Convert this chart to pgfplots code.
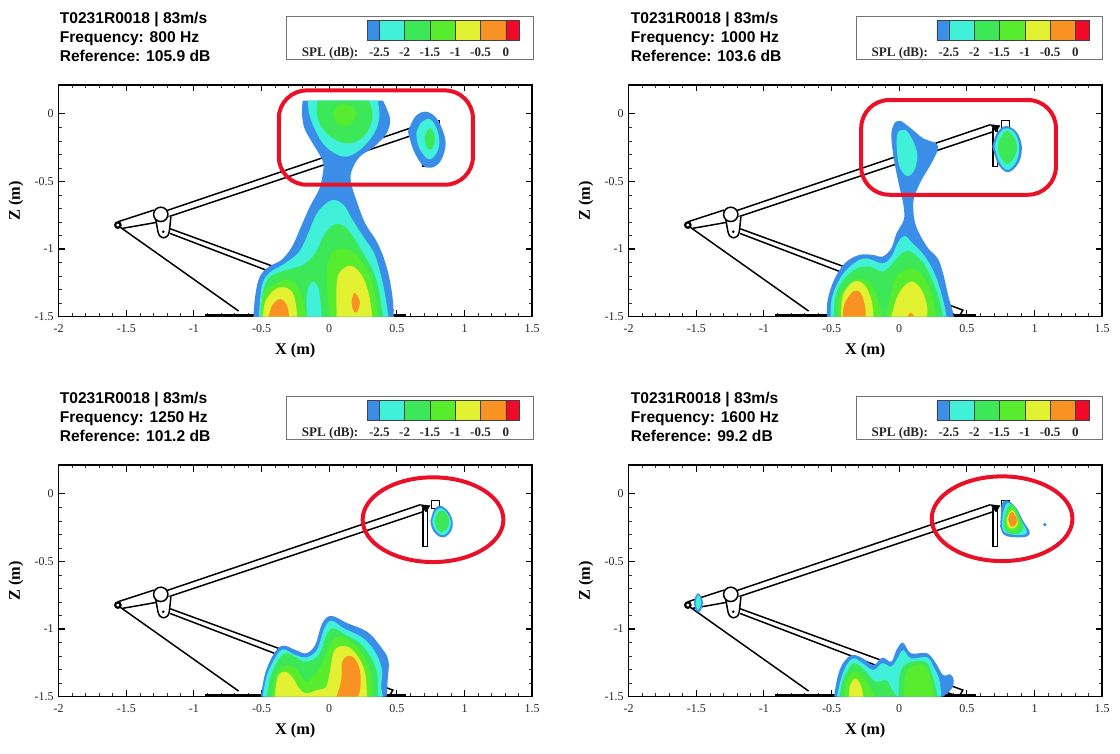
\documentclass[border=0pt]{standalone}
\usepackage{fontspec}
\setmainfont{Liberation Serif}
\newfontfamily\sansb{Liberation Sans}
\usepackage{pgfplots}
\pgfplotsset{compat=1.18}
\definecolor{cBlue}{HTML}{3A8EE8}
\definecolor{cCyan}{HTML}{40F0D8}
\definecolor{cGreen}{HTML}{3CE858}
\definecolor{cLime}{HTML}{58EC2E}
\definecolor{cYellow}{HTML}{E2F232}
\definecolor{cOrange}{HTML}{F89222}
\definecolor{cRed}{HTML}{F00A28}
\definecolor{ringRed}{HTML}{EA1028}
\newcommand\cf[2]{\addplot[fill=#1,draw=none,smooth,tension=0.6] coordinates {#2};}
\newcommand\rl[1]{\addplot[black,line width=1.5pt,no marks] coordinates {#1};}
\newcommand\rig{%
 \addplot[black,line width=2.6pt,no marks] coordinates {(-0.92,-1.488)(0.57,-1.488)};
 \rl{(-1.55,-0.835)(-0.67,-1.458)}
 \rl{(-1.56,-0.798)(-1.295,-0.712)}
 \addplot[black,line width=1.5pt,no marks,smooth] coordinates {(-1.527,-0.847)(-1.40,-0.825)(-1.277,-0.803)};
 \rl{(-1.198,-0.715)(0.675,-0.081)}
 \rl{(-1.198,-0.765)(0.701,-0.131)}
 \rl{(-1.176,-0.850)(0.470,-1.451)(0.449,-1.488)}
 \rl{(-1.176,-0.885)(0.404,-1.488)}
 \addplot[black,fill=white,line width=1.5pt,no marks] coordinates {(0.694,-0.106)(0.728,-0.106)(0.728,-0.389)(0.694,-0.389)(0.694,-0.106)};
 \addplot[black,fill=white,line width=1.5pt,no marks] coordinates {(0.755,-0.05)(0.815,-0.05)(0.815,-0.11)(0.755,-0.11)(0.755,-0.05)};
 \addplot[black,fill=black,no marks] coordinates {(0.675,-0.081)(0.745,-0.088)(0.715,-0.135)(0.675,-0.081)};
 \addplot[black,fill=white,line width=1.5pt,no marks,smooth,tension=0.5] coordinates {(-1.285,-0.76)(-1.265,-0.875)(-1.25,-0.905)(-1.225,-0.917)(-1.197,-0.905)(-1.183,-0.875)(-1.17,-0.76)};
 \addplot[only marks,mark=*,mark size=1.1pt,black] coordinates {(-1.227,-0.872)};
 \draw[black,fill=white,line width=1.5pt] (axis cs:-1.245,-0.744) ellipse [x radius=0.053,y radius=0.053];
 \draw[black,fill=white,line width=2.2pt] (axis cs:-1.562,-0.823) ellipse [x radius=0.02,y radius=0.02];
}
\pgfplotsset{panel/.style={
 anchor=south west,scale only axis,width=473.6pt,height=231.7pt,
 xmin=-2,xmax=1.5,ymin=-1.5,ymax=0.212,
 xtick={-2,-1.5,-1,-0.5,0,0.5,1,1.5},
 xticklabels={-2,-1.5,-1,-0.5,0,0.5,1,1.5},
 ytick={-1.5,-1,-0.5,0},
 yticklabels={-1.5,-1,-0.5,0},
 minor x tick num=4,minor y tick num=4,
 tick align=inside,
 major tick length=6.5pt,minor tick length=3.2pt,
 major tick style={black,line width=1.1pt},
 minor tick style={black!80,line width=0.5pt},
 axis line style={black,line width=1.5pt},
 tick label style={font=\fontsize{12}{14}\selectfont,text=black!85},
 xticklabel style={yshift=-4.5pt},
 yticklabel style={xshift=-1.5pt},
 xlabel={\bfseries X (m)},ylabel={\bfseries Z (m)},
 xlabel style={at={(axis description cs:0.4996,-0.145)},anchor=center,font=\fontsize{16.3}{18}\selectfont},
 ylabel style={at={(axis description cs:-0.09,0.5)},anchor=center,font=\fontsize{16.3}{18}\selectfont},
 clip=true,axis on top=false
}}
\newcommand\cell[3]{\addplot[fill=#1,draw=black!75,line width=0.35pt] coordinates {(#2,0)(#3,0)(#3,1)(#2,1)(#2,0)};}
% #1 box left px  #2 box top px  #3 box right px
\newcommand\legendbar[3]{%
 \draw[black!55,line width=0.7pt] ({#1pt},{753pt-#2pt}) rectangle ({#3pt},{753pt-#2pt-43pt});
 \begin{axis}[anchor=south west,at={({#1pt+80.6pt},{753pt-#2pt-23.5pt})},scale only axis,width=152pt,height=20pt,
  xmin=-2.737,xmax=0.267,ymin=0,ymax=1,
  xtick={-2.5,-2,-1.5,-1,-0.5,0},xticklabels={-2.5,-2,-1.5,-1,-0.5,0},ytick=\empty,
  major tick length=0pt,axis line style={draw=none},
  xticklabel style={font=\bfseries\fontsize{13}{15}\selectfont,text=black!85,yshift=-3.8pt},
  clip=false]
 \cell{cBlue}{-2.737}{-2.5}\cell{cCyan}{-2.5}{-2}\cell{cGreen}{-2}{-1.5}\cell{cLime}{-1.5}{-1}\cell{cYellow}{-1}{-0.5}\cell{cOrange}{-0.5}{0}\cell{cRed}{0}{0.267}
 \end{axis}
 \node[anchor=base west,font=\bfseries\fontsize{13.1}{15}\selectfont,text=black!85,inner sep=0pt] at ({#1pt+15pt},{753pt-#2pt-40pt}) {SPL (dB):};
}
\newcommand\heading[4]{%
 \node[anchor=base west,inner sep=0pt,font=\sansb\bfseries\fontsize{15.6}{17}\selectfont] at ({#1pt},{753pt-#2pt-23.3pt}) {T0231R0018 | 83m/s};
 \node[anchor=base west,inner sep=0pt,font=\sansb\bfseries\fontsize{15.6}{17}\selectfont] at ({#1pt},{753pt-#2pt-42.3pt}) {Frequency: #3 Hz};
 \node[anchor=base west,inner sep=0pt,font=\sansb\bfseries\fontsize{15.6}{17}\selectfont] at ({#1pt},{753pt-#2pt-61.6pt}) {Reference: #4 dB};
}
\begin{document}
\begin{tikzpicture}
\path[use as bounding box] (0pt,0pt) rectangle (1120pt,753pt);
\heading{59.6}{0}{800}{105.9}
\heading{630.7}{0}{1000}{103.6}
\heading{59.6}{380}{1250}{101.2}
\heading{630.7}{380}{1600}{99.2}
\legendbar{286.7}{16.7}{533}
\legendbar{856.3}{16.7}{1102.6}
\legendbar{286.7}{396.7}{533}
\legendbar{856.3}{396.7}{1102.6}

% ---------------- 800 Hz
\begin{axis}[panel,at={(58.6pt,436.3pt)}]
\rig
\cf{cBlue}{(-0.196,0.096)(-0.202,0.002)(-0.183,-0.108)(-0.130,-0.207)(-0.077,-0.293)(-0.043,-0.367)(-0.051,-0.466)(-0.077,-0.564)(-0.143,-0.687)(-0.209,-0.835)(-0.275,-0.983)(-0.354,-1.081)(-0.447,-1.131)(-0.513,-1.204)(-0.544,-1.328)(-0.560,-1.5)(-0.562,-1.68)(0.479,-1.68)(0.477,-1.5)(0.464,-1.328)(0.424,-1.131)(0.358,-0.958)(0.266,-0.810)(0.200,-0.638)(0.160,-0.502)(0.168,-0.416)(0.226,-0.318)(0.332,-0.244)(0.424,-0.145)(0.450,-0.047)(0.424,0.039)(0.398,0.096)}
\cf{cCyan}{(-0.157,0.096)(-0.149,0.002)(-0.104,-0.121)(-0.025,-0.244)(0.107,-0.318)(0.226,-0.268)(0.332,-0.145)(0.371,-0.022)(0.358,0.096)}
\cf{cGreen}{(-0.085,0.096)(-0.090,-0.010)(-0.051,-0.108)(0.028,-0.182)(0.134,-0.219)(0.239,-0.182)(0.305,-0.084)(0.318,0.015)(0.292,0.096)}
\cf{cLime}{(0.03,0.0)(0.06,0.05)(0.11,0.07)(0.17,0.05)(0.20,0.0)(0.17,-0.06)(0.11,-0.09)(0.05,-0.06)(0.03,0.0)}
\cf{cBlue}{(0.582,-0.133)(0.635,-0.022)(0.714,0.015)(0.793,-0.034)(0.846,-0.145)(0.859,-0.244)(0.820,-0.355)(0.754,-0.399)(0.688,-0.379)(0.622,-0.268)(0.582,-0.133)}
\cf{cCyan}{(0.643,-0.145)(0.675,-0.071)(0.741,-0.039)(0.793,-0.108)(0.814,-0.207)(0.793,-0.293)(0.741,-0.337)(0.688,-0.293)(0.653,-0.219)(0.643,-0.145)}
\cf{cGreen}{(0.706,-0.182)(0.719,-0.133)(0.746,-0.108)(0.775,-0.145)(0.780,-0.195)(0.767,-0.244)(0.741,-0.268)(0.714,-0.232)(0.706,-0.182)}
\cf{cCyan}{(-0.520,-1.5)(-0.499,-1.278)(-0.447,-1.180)(-0.328,-1.106)(-0.222,-1.02)(-0.156,-0.884)(-0.104,-0.761)(-0.051,-0.687)(0.028,-0.638)(0.107,-0.675)(0.173,-0.786)(0.252,-0.909)(0.332,-1.032)(0.379,-1.18)(0.411,-1.328)(0.437,-1.5)}
\cf{cGreen}{(-0.499,-1.5)(-0.491,-1.328)(-0.447,-1.217)(-0.354,-1.167)(-0.196,-1.118)(-0.104,-1.032)(-0.051,-0.921)(0.0,-0.847)(0.055,-0.815)(0.121,-0.84)(0.2,-0.946)(0.266,-1.057)(0.332,-1.18)(0.371,-1.328)(0.398,-1.5)}
\cf{cLime}{(0.002,-1.5)(-0.011,-1.328)(-0.017,-1.131)(0.028,-1.02)(0.107,-0.995)(0.2,-1.044)(0.279,-1.155)(0.332,-1.303)(0.358,-1.5)}
\cf{cLime}{(-0.505,-1.5)(-0.486,-1.328)(-0.394,-1.254)(-0.288,-1.229)(-0.209,-1.328)(-0.170,-1.5)}
\cf{cCyan}{(-0.164,-1.5)(-0.164,-1.328)(-0.122,-1.241)(-0.077,-1.303)(-0.056,-1.5)}
\cf{cYellow}{(-0.491,-1.5)(-0.473,-1.389)(-0.407,-1.303)(-0.328,-1.283)(-0.262,-1.34)(-0.236,-1.5)}
\cf{cOrange}{(-0.447,-1.5)(-0.42,-1.414)(-0.362,-1.37)(-0.314,-1.414)(-0.296,-1.5)}
\cf{cYellow}{(0.055,-1.5)(0.055,-1.254)(0.081,-1.167)(0.160,-1.123)(0.239,-1.192)(0.292,-1.328)(0.318,-1.5)}
\cf{cOrange}{(0.165,-1.389)(0.181,-1.328)(0.2,-1.333)(0.226,-1.389)(0.213,-1.451)(0.192,-1.47)(0.173,-1.44)(0.165,-1.389)}
\draw[ringRed,line width=4pt,rounded corners=28pt] (axis cs:-0.373,0.172) rectangle (axis cs:1.062,-0.525);
\end{axis}

% ---------------- 1000 Hz
\begin{axis}[panel,at={(628.6pt,436.3pt)}]
\rig
\cf{cBlue}{(-0.033,-0.067)(0.007,-0.052)(0.086,-0.108)(0.178,-0.182)(0.271,-0.219)(0.284,-0.268)(0.231,-0.379)(0.165,-0.490)(0.112,-0.613)(0.104,-0.712)(0.126,-0.835)(0.205,-0.983)(0.284,-1.069)(0.324,-1.18)(0.364,-1.352)(0.403,-1.5)(0.405,-1.68)(-0.537,-1.68)(-0.535,-1.5)(-0.529,-1.377)(-0.482,-1.229)(-0.403,-1.106)(-0.297,-1.044)(-0.191,-1.044)(-0.125,-1.057)(-0.059,-0.995)(-0.020,-0.884)(0.033,-0.786)(0.033,-0.687)(0.007,-0.564)(-0.020,-0.441)(-0.046,-0.293)(-0.059,-0.145)(-0.033,-0.067)}
\cf{cCyan}{(-0.02,-0.195)(-0.006,-0.133)(0.047,-0.121)(0.099,-0.195)(0.134,-0.305)(0.112,-0.416)(0.060,-0.461)(0.007,-0.404)(-0.014,-0.305)(-0.02,-0.195)}
\cf{cCyan}{(-0.508,-1.5)(-0.495,-1.352)(-0.429,-1.204)(-0.336,-1.106)(-0.244,-1.069)(-0.125,-1.106)(-0.059,-1.057)(-0.006,-0.946)(0.041,-0.904)(0.099,-0.958)(0.192,-1.057)(0.271,-1.204)(0.324,-1.377)(0.350,-1.5)}
\cf{cGreen}{(-0.482,-1.5)(-0.469,-1.34)(-0.403,-1.217)(-0.310,-1.143)(-0.218,-1.131)(-0.125,-1.167)(-0.059,-1.118)(0.020,-1.032)(0.086,-1.02)(0.178,-1.106)(0.244,-1.229)(0.297,-1.377)(0.324,-1.5)}
\cf{cLime}{(-0.455,-1.5)(-0.442,-1.352)(-0.376,-1.266)(-0.297,-1.217)(-0.218,-1.254)(-0.165,-1.352)(-0.125,-1.5)}
\cf{cLime}{(-0.099,-1.5)(-0.059,-1.328)(-0.020,-1.204)(0.086,-1.143)(0.178,-1.204)(0.244,-1.352)(0.271,-1.5)}
\cf{cYellow}{(-0.429,-1.5)(-0.416,-1.34)(-0.336,-1.241)(-0.257,-1.266)(-0.205,-1.377)(-0.191,-1.5)}
\cf{cOrange}{(-0.416,-1.5)(-0.403,-1.401)(-0.336,-1.31)(-0.284,-1.328)(-0.252,-1.426)(-0.249,-1.5)}
\cf{cYellow}{(-0.059,-1.5)(-0.020,-1.365)(0.033,-1.278)(0.099,-1.241)(0.165,-1.303)(0.205,-1.414)(0.205,-1.5)}
\cf{cOrange}{(0.06,-1.5)(0.086,-1.47)(0.112,-1.5)}
\cf{cBlue}{(0.688,-0.244)(0.720,-0.145)(0.786,-0.091)(0.865,-0.133)(0.905,-0.232)(0.892,-0.342)(0.839,-0.416)(0.786,-0.429)(0.728,-0.367)(0.688,-0.244)}
\cf{cCyan}{(0.704,-0.244)(0.733,-0.158)(0.786,-0.108)(0.852,-0.140)(0.886,-0.232)(0.873,-0.337)(0.826,-0.404)(0.786,-0.411)(0.739,-0.355)(0.704,-0.244)}
\cf{cGreen}{(0.727,-0.249)(0.746,-0.182)(0.799,-0.126)(0.852,-0.182)(0.870,-0.249)(0.852,-0.318)(0.799,-0.372)(0.746,-0.318)(0.727,-0.249)}
\draw[ringRed,line width=4pt,rounded corners=28pt] (axis cs:-0.281,0.101) rectangle (axis cs:1.158,-0.599);
\end{axis}

% ---------------- 1250 Hz
\begin{axis}[panel,at={(58.6pt,56.3pt)}]
\rig
\cf{cBlue}{(-0.505,-1.5)(-0.473,-1.327)(-0.407,-1.179)(-0.341,-1.123)(-0.249,-1.155)(-0.170,-1.179)(-0.104,-1.118)(-0.051,-0.957)(0.015,-0.903)(0.134,-0.957)(0.279,-1.019)(0.371,-1.118)(0.437,-1.229)(0.432,-1.377)(0.424,-1.5)}
\cf{cCyan}{(-0.491,-1.5)(-0.460,-1.34)(-0.394,-1.204)(-0.341,-1.150)(-0.249,-1.192)(-0.170,-1.209)(-0.091,-1.155)(-0.038,-1.0)(0.015,-0.938)(0.107,-0.994)(0.252,-1.068)(0.345,-1.179)(0.390,-1.303)(0.384,-1.426)(0.398,-1.5)}
\cf{cGreen}{(-0.460,-1.5)(-0.433,-1.352)(-0.368,-1.216)(-0.314,-1.179)(-0.249,-1.209)(-0.170,-1.241)(-0.077,-1.192)(-0.025,-1.056)(0.028,-0.994)(0.121,-1.044)(0.226,-1.105)(0.305,-1.204)(0.353,-1.327)(0.358,-1.5)}
\cf{cLime}{(-0.420,-1.5)(-0.407,-1.377)(-0.341,-1.278)(-0.249,-1.29)(-0.170,-1.389)(-0.104,-1.327)(-0.051,-1.253)(0.002,-1.118)(0.068,-1.056)(0.160,-1.093)(0.252,-1.192)(0.305,-1.327)(0.318,-1.5)}
\cf{cYellow}{(-0.402,-1.5)(-0.381,-1.352)(-0.328,-1.315)(-0.275,-1.352)(-0.222,-1.439)(-0.170,-1.475)(-0.091,-1.45)(-0.025,-1.43)(0.002,-1.327)(0.041,-1.154)(0.134,-1.130)(0.213,-1.204)(0.266,-1.327)(0.279,-1.5)}
\cf{cOrange}{(0.055,-1.5)(0.089,-1.377)(0.094,-1.253)(0.134,-1.199)(0.186,-1.216)(0.226,-1.303)(0.231,-1.426)(0.213,-1.5)}
\cf{cBlue}{(0.748,-0.205)(0.775,-0.118)(0.820,-0.089)(0.880,-0.131)(0.912,-0.205)(0.899,-0.279)(0.846,-0.323)(0.793,-0.303)(0.759,-0.254)(0.748,-0.205)}
\cf{cCyan}{(0.761,-0.205)(0.785,-0.131)(0.827,-0.106)(0.872,-0.143)(0.899,-0.205)(0.886,-0.271)(0.841,-0.308)(0.801,-0.286)(0.772,-0.247)(0.761,-0.205)}
\cf{cGreen}{(0.780,-0.205)(0.796,-0.148)(0.833,-0.123)(0.872,-0.155)(0.886,-0.205)(0.872,-0.254)(0.833,-0.286)(0.796,-0.259)(0.780,-0.205)}
\draw[ringRed,line width=4pt] (axis cs:0.767,-0.192) ellipse [x radius=0.52,y radius=0.313];
\end{axis}

% ---------------- 1600 Hz
\begin{axis}[panel,at={(628.6pt,56.3pt)}]
\rig
\cf{cBlue}{(-0.482,-1.5)(-0.455,-1.352)(-0.416,-1.253)(-0.350,-1.192)(-0.270,-1.216)(-0.191,-1.266)(-0.125,-1.211)(-0.059,-1.241)(-0.020,-1.155)(0.028,-1.100)(0.086,-1.179)(0.205,-1.179)(0.271,-1.253)(0.324,-1.340)(0.377,-1.335)(0.403,-1.377)(0.390,-1.438)(0.324,-1.5)}
\cf{cCyan}{(-0.461,-1.5)(-0.429,-1.365)(-0.389,-1.266)(-0.337,-1.216)(-0.270,-1.253)(-0.191,-1.303)(-0.125,-1.253)(-0.059,-1.278)(-0.020,-1.229)(0.028,-1.155)(0.086,-1.216)(0.205,-1.209)(0.253,-1.278)(0.297,-1.377)(0.310,-1.5)}
\cf{cGreen}{(-0.442,-1.5)(-0.416,-1.377)(-0.376,-1.303)(-0.337,-1.253)(-0.270,-1.290)(-0.178,-1.389)(-0.099,-1.377)(-0.059,-1.438)(-0.020,-1.5)}
\cf{cGreen}{(-0.006,-1.5)(0.007,-1.327)(0.059,-1.253)(0.191,-1.241)(0.244,-1.340)(0.284,-1.5)}
\cf{cLime}{(-0.403,-1.5)(-0.389,-1.389)(-0.337,-1.315)(-0.270,-1.352)(-0.205,-1.451)(-0.178,-1.5)}
\cf{cLime}{(0.033,-1.5)(0.046,-1.352)(0.086,-1.278)(0.178,-1.266)(0.231,-1.365)(0.258,-1.5)}
\cf{cYellow}{(-0.371,-1.5)(-0.363,-1.414)(-0.323,-1.365)(-0.284,-1.414)(-0.265,-1.5)}
\cf{cBlue}{(0.746,-0.242)(0.752,-0.143)(0.760,-0.069)(0.799,-0.049)(0.865,-0.106)(0.918,-0.205)(0.963,-0.279)(0.944,-0.316)(0.839,-0.321)(0.773,-0.303)(0.746,-0.242)}
\cf{cCyan}{(0.760,-0.242)(0.768,-0.143)(0.799,-0.069)(0.852,-0.106)(0.905,-0.205)(0.944,-0.279)(0.918,-0.303)(0.839,-0.303)(0.780,-0.286)(0.760,-0.242)}
\cf{cGreen}{(0.773,-0.205)(0.799,-0.106)(0.839,-0.081)(0.892,-0.168)(0.918,-0.254)(0.879,-0.296)(0.818,-0.296)(0.780,-0.266)(0.773,-0.205)}
\cf{cLime}{(0.786,-0.192)(0.807,-0.131)(0.839,-0.101)(0.873,-0.168)(0.892,-0.229)(0.860,-0.271)(0.818,-0.271)(0.792,-0.242)(0.786,-0.192)}
\cf{cYellow}{(0.794,-0.192)(0.812,-0.143)(0.839,-0.123)(0.865,-0.168)(0.878,-0.217)(0.852,-0.254)(0.818,-0.254)(0.799,-0.229)(0.794,-0.192)}
\cf{cOrange}{(0.805,-0.192)(0.818,-0.148)(0.839,-0.136)(0.860,-0.168)(0.871,-0.205)(0.852,-0.237)(0.826,-0.242)(0.805,-0.192)}
\addplot[only marks,mark=*,mark size=1.5pt,cBlue] coordinates {(1.076,-0.229)};
\cf{cBlue}{(-1.517,-0.804)(-1.506,-0.760)(-1.485,-0.735)(-1.464,-0.760)(-1.451,-0.804)(-1.464,-0.859)(-1.490,-0.876)(-1.509,-0.846)(-1.517,-0.804)}
\cf{cCyan}{(-1.506,-0.804)(-1.496,-0.765)(-1.483,-0.748)(-1.470,-0.772)(-1.464,-0.804)(-1.475,-0.846)(-1.490,-0.859)(-1.501,-0.834)(-1.506,-0.804)}
\draw[ringRed,line width=4pt] (axis cs:0.760,-0.185) ellipse [x radius=0.52,y radius=0.313];
\end{axis}
\end{tikzpicture}
\end{document}
